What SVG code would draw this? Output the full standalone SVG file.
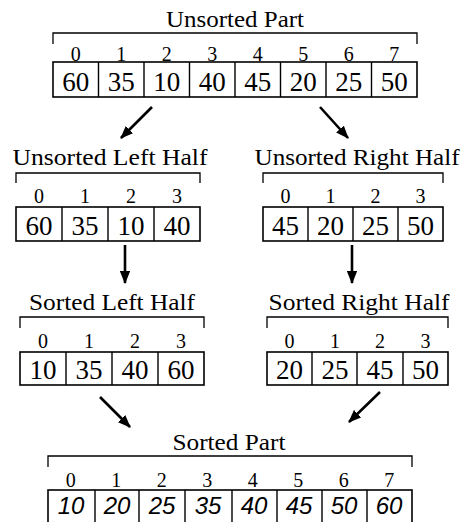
<svg xmlns="http://www.w3.org/2000/svg" width="464" height="522" viewBox="0 0 464 522">
<style>
.t{font-size:24px;fill:#000;text-anchor:middle}
.i{font-size:20px;fill:#000;text-anchor:middle}
.v{font-size:27px;fill:#000;text-anchor:middle}
.h{font-size:24px;font-style:italic;fill:#000;text-anchor:middle}
.box{fill:#fff;stroke:#000;stroke-width:1.6}
.div{stroke:#000;stroke-width:1.4}
.br{fill:none;stroke:#000;stroke-width:1.3}
.ar{stroke:#000;stroke-width:2.6;fill:none;marker-end:url(#ah)}
</style>
<defs>
<marker id="ah" markerWidth="5" markerHeight="4" refX="4.6" refY="2" orient="auto" markerUnits="strokeWidth">
<path d="M0,0 L5,2 L0,4 Z" fill="#000"/>
</marker>
</defs>
<rect width="464" height="522" fill="#fff"/>
<g font-family="'Liberation Serif', 'DejaVu Serif', serif">
<g id="unsorted-part">
<text class="t" x="235" y="27" textLength="138" lengthAdjust="spacingAndGlyphs">Unsorted Part</text>
<path class="br" d="M53,44 V33 H417 V44"/>
<g class="i">
<text x="75.8" y="61">0</text><text x="121.2" y="61">1</text><text x="166.8" y="61">2</text><text x="212.2" y="61">3</text><text x="257.8" y="61">4</text><text x="303.2" y="61">5</text><text x="348.8" y="61">6</text><text x="394.2" y="61">7</text>
</g>
<rect class="box" x="53" y="62" width="364" height="35"/>
<path class="div" d="M98.5,62V97M144,62V97M189.5,62V97M235,62V97M280.5,62V97M326,62V97M371.5,62V97"/>
<g class="v">
<text x="75.8" y="91">60</text><text x="121.2" y="91">35</text><text x="166.8" y="91">10</text><text x="212.2" y="91">40</text><text x="257.8" y="91">45</text><text x="303.2" y="91">20</text><text x="348.8" y="91">25</text><text x="394.2" y="91">50</text>
</g>
</g>

<g id="unsorted-left-half">
<text class="t" x="110" y="165" textLength="195" lengthAdjust="spacingAndGlyphs">Unsorted Left Half</text>
<path class="br" d="M16,183 V173 H200 V183"/>
<g class="i">
<text x="39" y="203">0</text><text x="85" y="203">1</text><text x="131" y="203">2</text><text x="177" y="203">3</text>
</g>
<rect class="box" x="16" y="207" width="184" height="34"/>
<path class="div" d="M62,207V241M108,207V241M154,207V241"/>
<g class="v">
<text x="39" y="235">60</text><text x="85" y="235">35</text><text x="131" y="235">10</text><text x="177" y="235">40</text>
</g>
</g>

<g id="unsorted-right-half">
<text class="t" x="357" y="165" textLength="205" lengthAdjust="spacingAndGlyphs">Unsorted Right Half</text>
<path class="br" d="M263,183 V173 H443 V183"/>
<g class="i">
<text x="285.5" y="203">0</text><text x="330.5" y="203">1</text><text x="375.5" y="203">2</text><text x="420.5" y="203">3</text>
</g>
<rect class="box" x="263" y="207" width="180" height="34"/>
<path class="div" d="M308,207V241M353,207V241M398,207V241"/>
<g class="v">
<text x="285.5" y="235">45</text><text x="330.5" y="235">20</text><text x="375.5" y="235">25</text><text x="420.5" y="235">50</text>
</g>
</g>

<g id="sorted-left-half">
<text class="t" x="112" y="310" textLength="166" lengthAdjust="spacingAndGlyphs">Sorted Left Half</text>
<path class="br" d="M20,328 V317 H204 V328"/>
<g class="i">
<text x="43" y="348">0</text><text x="89" y="348">1</text><text x="135" y="348">2</text><text x="181" y="348">3</text>
</g>
<rect class="box" x="20" y="352" width="184" height="33"/>
<path class="div" d="M66,352V385M112,352V385M158,352V385"/>
<g class="v">
<text x="43" y="379">10</text><text x="89" y="379">35</text><text x="135" y="379">40</text><text x="181" y="379">60</text>
</g>
</g>

<g id="sorted-right-half">
<text class="t" x="359" y="310" textLength="181" lengthAdjust="spacingAndGlyphs">Sorted Right Half</text>
<path class="br" d="M267,328 V317 H448 V328"/>
<g class="i">
<text x="289.6" y="348">0</text><text x="334.9" y="348">1</text><text x="380.1" y="348">2</text><text x="425.4" y="348">3</text>
</g>
<rect class="box" x="267" y="352" width="181" height="33"/>
<path class="div" d="M312,352V385M357,352V385M403,352V385"/>
<g class="v">
<text x="289.6" y="379">20</text><text x="334.9" y="379">25</text><text x="380.1" y="379">45</text><text x="425.4" y="379">50</text>
</g>
</g>

<g id="sorted-part">
<text class="t" x="229" y="450" textLength="113" lengthAdjust="spacingAndGlyphs">Sorted Part</text>
<path class="br" d="M48,467 V456 H412 V467"/>
<g class="i">
<text x="70.8" y="487">0</text><text x="116.2" y="487">1</text><text x="161.8" y="487">2</text><text x="207.2" y="487">3</text><text x="252.8" y="487">4</text><text x="298.2" y="487">5</text><text x="343.8" y="487">6</text><text x="389.2" y="487">7</text>
</g>
<rect class="box" x="48" y="490" width="364" height="40"/>
<path class="div" d="M95,490V522M139,490V522M185,490V522M232,490V522M277,490V522M322,490V522M367,490V522"/>
<g class="h" font-family="'Liberation Sans', 'DejaVu Sans', sans-serif">
<text x="71" y="514">10</text><text x="117" y="514">20</text><text x="162" y="514">25</text><text x="208" y="514">35</text><text x="254" y="514">40</text><text x="299" y="514">45</text><text x="344" y="514">50</text><text x="389" y="514">60</text>
</g>
</g>
</g>
<g id="connectors">
<line class="ar" x1="152" y1="107" x2="121" y2="138"/>
<line class="ar" x1="320" y1="107" x2="348" y2="138"/>
<line class="ar" x1="125" y1="245" x2="125" y2="283"/>
<line class="ar" x1="352" y1="245" x2="352" y2="283"/>
<line class="ar" x1="100" y1="397" x2="130" y2="427"/>
<line class="ar" x1="380" y1="392" x2="349" y2="422"/>
</g>
</svg>
